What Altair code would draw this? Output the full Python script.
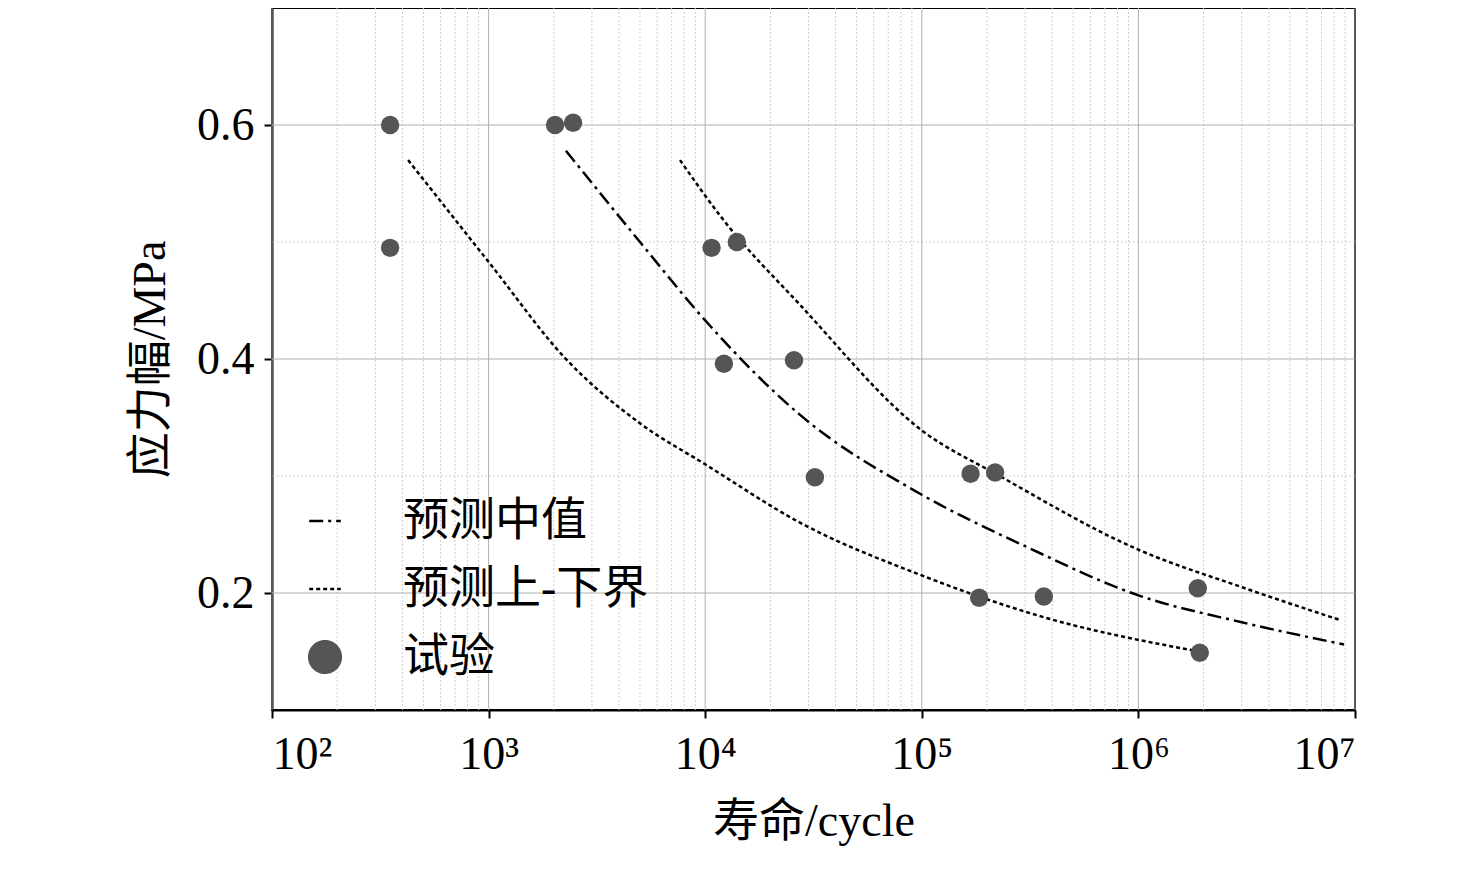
import altair as alt
import pandas as pd

exp_n = [351, 351, 2027, 2455, 10700, 14000, 12200, 25700, 32100, 168000, 218000, 184000, 366000, 1880000, 1920000]
exp_s = [0.6, 0.495, 0.6, 0.602, 0.495, 0.5, 0.396, 0.399, 0.299, 0.302, 0.303, 0.196, 0.197, 0.204, 0.149]

low_n = [425, 1000, 2275, 5000, 10000, 27500, 100000, 355000, 1900000]
low_s = [0.57, 0.483, 0.4, 0.345, 0.31, 0.26, 0.215, 0.18, 0.15]
med_n = [2275, 5000, 10000, 27500, 100000, 300000, 1000000, 3000000, 8900000]
med_s = [0.578, 0.5, 0.433, 0.352, 0.284, 0.24, 0.198, 0.175, 0.156]
up_n = [7650, 12000, 27500, 100000, 229000, 1000000, 3000000, 8500000]
up_s = [0.57, 0.52, 0.446, 0.339, 0.30, 0.237, 0.205, 0.177]

minor_x = [m * 10 ** k for k in range(2, 7) for m in range(2, 10)]
major_x = [10 ** k for k in range(2, 8)]
minor_y = [0.3, 0.5]
major_y = [0.2, 0.4, 0.6]
legend_labels = ["预测中值", "预测上-下界", "试验"]

font = "Liberation Serif, Noto Sans CJK SC"
xs = alt.Scale(type="log", domain=[100, 1e7], nice=False)
ys = alt.Scale(domain=[0.1, 0.7], nice=False, zero=False)

def curve(n, s, dash):
    return alt.Chart(pd.DataFrame({"n": n, "s": s})).mark_line(
        color="black", strokeWidth=2.5, strokeDash=dash, interpolate="monotone").encode(
        x=alt.X("n:Q", scale=xs), y=alt.Y("s:Q", scale=ys))

vminor = alt.Chart(pd.DataFrame({"x": minor_x})).mark_rule(color="#cfcfcf", strokeDash=[2, 2], strokeWidth=1).encode(x=alt.X("x:Q", scale=xs))
hminor = alt.Chart(pd.DataFrame({"y": minor_y})).mark_rule(color="#cfcfcf", strokeDash=[2, 2], strokeWidth=1).encode(y=alt.Y("y:Q", scale=ys))
vmajor = alt.Chart(pd.DataFrame({"x": major_x})).mark_rule(color="#b0b0b0", strokeWidth=1).encode(x=alt.X("x:Q", scale=xs))
hmajor = alt.Chart(pd.DataFrame({"y": major_y})).mark_rule(color="#b0b0b0", strokeWidth=1).encode(y=alt.Y("y:Q", scale=ys))

base = alt.Chart(pd.DataFrame({"n": exp_n, "s": exp_s})).mark_circle(size=340, color="#555555", opacity=1).encode(
    x=alt.X("n:Q", scale=xs, title="寿命/cycle",
            axis=alt.Axis(values=major_x, grid=False, tickSize=8, labelPadding=14,
                          labelExpr="'10' + ['⁰','¹','²','³','⁴','⁵','⁶','⁷'][round(log(datum.value)/LN10)]")),
    y=alt.Y("s:Q", scale=ys, title="应力幅/MPa",
            axis=alt.Axis(values=major_y, format=".1f", grid=False, tickSize=8, labelPadding=10)),
)

leg_df = pd.DataFrame({"n": [1e4] * 3, "s": [0.4] * 3, "k": legend_labels})
leg = alt.Chart(leg_df).mark_point(opacity=0, size=300).encode(
    x=alt.X("n:Q", scale=xs), y=alt.Y("s:Q", scale=ys),
    shape=alt.Shape("k:N", scale=alt.Scale(domain=legend_labels, range=["stroke", "stroke", "circle"]), legend=alt.Legend(title=None)),
    stroke=alt.Stroke("k:N", scale=alt.Scale(domain=legend_labels, range=["black", "black", "#555555"]), legend=alt.Legend(title=None)),
    fill=alt.Fill("k:N", scale=alt.Scale(domain=legend_labels, range=["transparent", "transparent", "#555555"]), legend=alt.Legend(title=None)),
    strokeDash=alt.StrokeDash("k:N", scale=alt.Scale(domain=legend_labels, range=[[14, 5, 3, 5], [4, 3], [1, 0]]), legend=alt.Legend(title=None)),
)

chart = alt.layer(
    vminor, hminor, vmajor, hmajor,
    curve(low_n, low_s, [4, 3]),
    curve(up_n, up_s, [4, 3]),
    curve(med_n, med_s, [14, 5, 3, 5]),
    base, leg,
).properties(width=1083, height=702, autosize=alt.AutoSizeParams(type="none"),
             padding={"left": 264, "top": 0, "right": 110, "bottom": 170}
).configure_view(stroke="black", strokeWidth=2
).configure_axis(labelFont=font, titleFont=font, labelFontSize=46, titleFontSize=46,
                 labelColor="black", titleColor="black", titleFontWeight="normal",
                 domainColor="black", tickColor="black", domainWidth=2, tickWidth=2, titlePadding=22
).configure_legend(orient="none", legendX=30, legendY=490, labelFont=font, labelFontSize=46,
                   labelColor="black", labelLimit=0, symbolSize=1000, symbolStrokeWidth=2.5, symbolOpacity=1,
                   rowPadding=22, labelOffset=55)

chart.save("out.html", embed_options={"renderer": "svg", "actions": False})
